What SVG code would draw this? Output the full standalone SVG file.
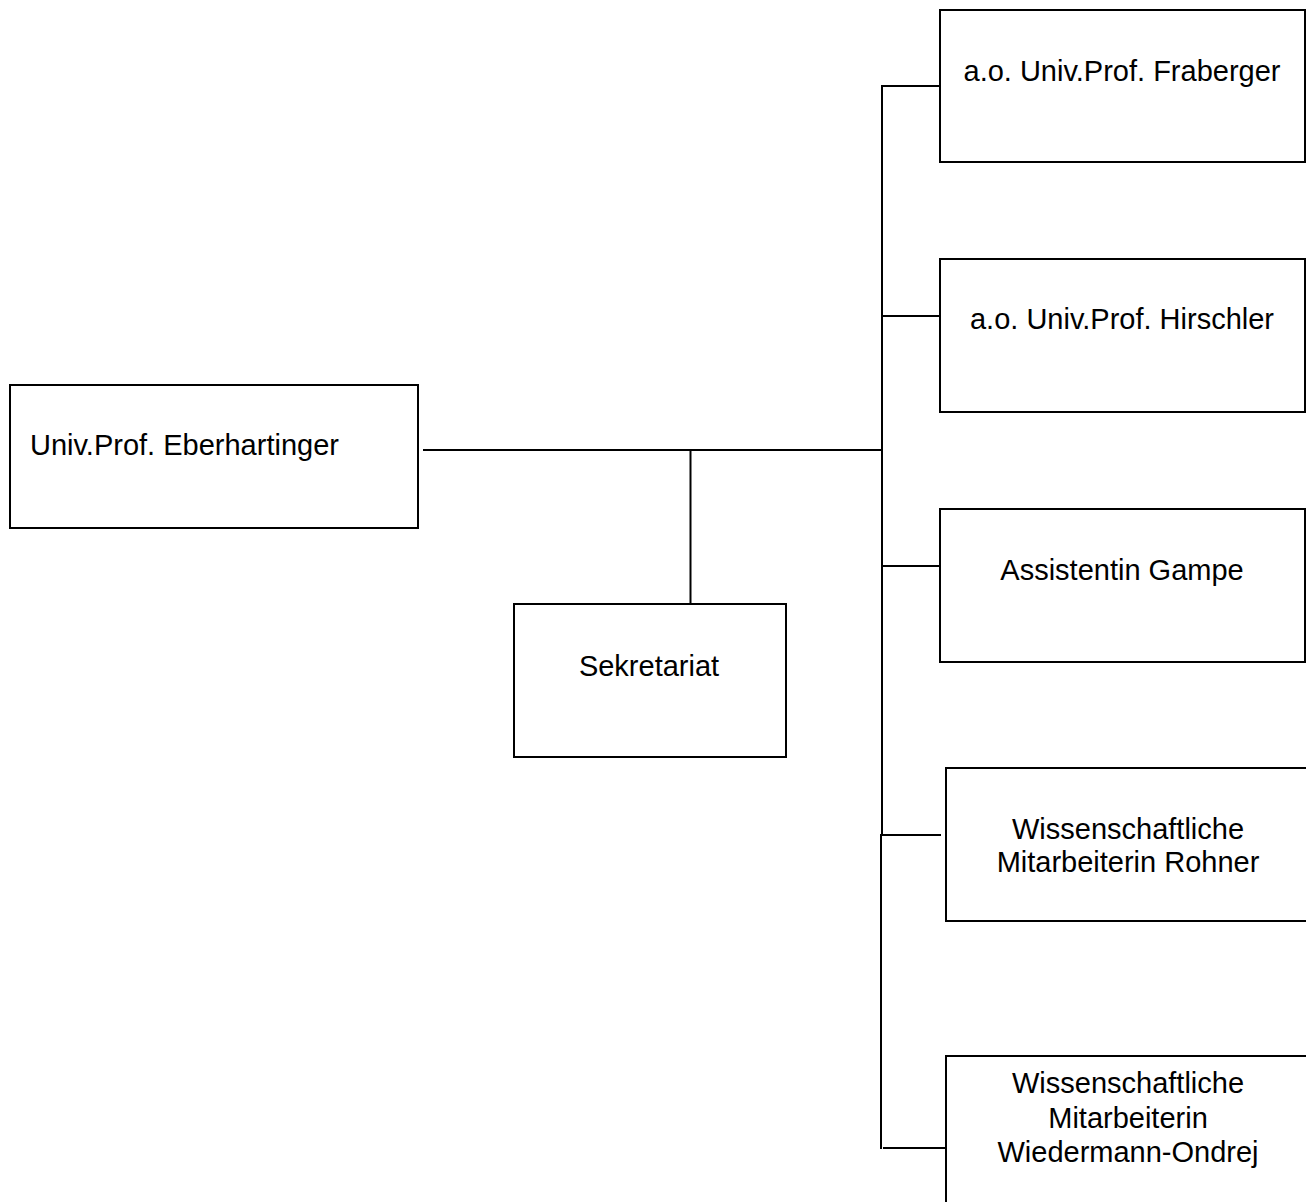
<svg xmlns="http://www.w3.org/2000/svg" width="1306" height="1202" viewBox="0 0 1306 1202">
<style>
.box{fill:#fff;stroke:#000;stroke-width:2}
.ln{fill:none;stroke:#000;stroke-width:2}
text{font-family:"Liberation Sans",Arial,sans-serif;font-size:29px;fill:#000}
.c{text-anchor:middle}
</style>
<rect width="1306" height="1202" fill="#fff"/>
<g id="connectors">
<path class="ln" d="M423 450H882"/>
<path class="ln" d="M690.5 450V604"/>
<path class="ln" d="M882 85V835"/>
<path class="ln" d="M881 86H940"/>
<path class="ln" d="M881 316H940"/>
<path class="ln" d="M881 566H940"/>
<path class="ln" d="M880 835H941"/>
<path class="ln" d="M881 834V1149"/>
<path class="ln" d="M883 1148H947"/>
</g>
<g id="eberhartinger">
<rect class="box" x="10" y="385" width="408" height="143"/>
<text x="30" y="455">Univ.Prof. Eberhartinger</text>
</g>
<g id="sekretariat">
<rect class="box" x="514" y="604" width="272" height="153"/>
<text class="c" x="649" y="676">Sekretariat</text>
</g>
<g id="fraberger">
<rect class="box" x="940" y="10" width="365" height="152"/>
<text class="c" x="1122" y="81">a.o. Univ.Prof. Fraberger</text>
</g>
<g id="hirschler">
<rect class="box" x="940" y="259" width="365" height="153"/>
<text class="c" x="1122" y="329">a.o. Univ.Prof. Hirschler</text>
</g>
<g id="gampe">
<rect class="box" x="940" y="509" width="365" height="153"/>
<text class="c" x="1122" y="580">Assistentin Gampe</text>
</g>
<g id="rohner">
<rect class="box" x="946" y="768" width="380" height="153"/>
<text class="c" x="1128" y="839">Wissenschaftliche</text>
<text class="c" x="1128" y="872">Mitarbeiterin Rohner</text>
</g>
<g id="wiedermann">
<rect class="box" x="946" y="1056" width="380" height="200"/>
<text class="c" x="1128" y="1093">Wissenschaftliche</text>
<text class="c" x="1128" y="1128">Mitarbeiterin</text>
<text class="c" x="1128" y="1162">Wiedermann-Ondrej</text>
</g>
</svg>
